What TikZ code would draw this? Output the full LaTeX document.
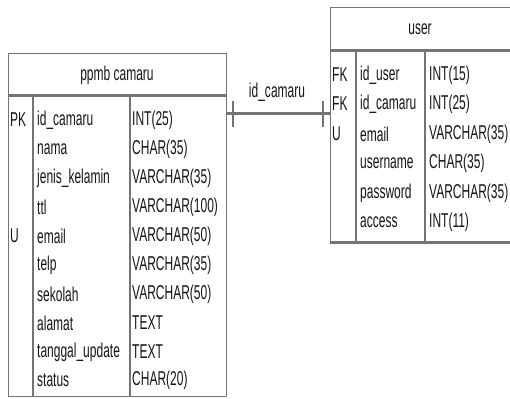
\documentclass[tikz,border=0pt]{standalone}
\usepackage{fontspec}
\newfontfamily\cond[FakeStretch=0.6]{Liberation Sans}
\usetikzlibrary{calc}
\definecolor{lg}{HTML}{747474}
\definecolor{tx}{HTML}{151515}
\begin{document}
\begin{tikzpicture}[x=1pt,y=-1pt,
  txt/.style={font=\cond\fontsize{20}{22}\selectfont, text=tx, inner sep=0pt, anchor=west},
  hdr/.style={font=\cond\fontsize{20}{22}\selectfont, text=tx, inner sep=0pt},
  tbl/.style={draw=lg, line width=1pt, inner sep=0pt},
  sepline/.style={draw=lg, line width=3pt},
  coldiv/.style={draw=lg, line width=1.2pt},
  conn/.style={draw=lg, line width=3pt},
  tickmark/.style={draw=lg, line width=2pt}]
\useasboundingbox (0,0) rectangle (510,398);
\clip (0,0) rectangle (510,398);
% left table
\node[tbl, minimum width=218pt, minimum height=342pt] (ppmb) at (117,225) {};
\node[hdr] (ppmbh) at (117,75) {ppmb camaru};
\draw[sepline] (8,96) -- (226,96);
\draw[coldiv] (33,96) -- (33,396);
\draw[coldiv] (130,96) -- (130,396);
\node[txt] (lk1) at (10,120) {PK};
\node[txt] (lk2) at (10,236) {U};
\foreach \n/\t/\y [count=\i] in {id\_camaru/INT(25)/120, nama/CHAR(35)/149, jenis\_kelamin/VARCHAR(35)/178, ttl/VARCHAR(100)/207, email/VARCHAR(50)/236, telp/VARCHAR(35)/265, sekolah/VARCHAR(50)/294, alamat/TEXT/323, tanggal\_update/TEXT/352, status/CHAR(20)/380}{
  \node[txt] (ln\i) at (37,\y) {\n};
  \node[txt] (lt\i) at (132,\y) {\t};
}
% right table
\node[tbl, minimum width=184pt, minimum height=234pt] (user) at (422,125) {};
\node[hdr] (userh) at (420,29) {user};
\draw[sepline] (330,51) -- (512,51);
\draw[sepline] (330,242) -- (512,242);
\draw[coldiv] (356,51) -- (356,242);
\draw[coldiv] (425,51) -- (425,242);
\node[txt] (rk1) at (332,75) {FK};
\node[txt] (rk2) at (332,104) {FK};
\node[txt] (rk3) at (332,134) {U};
\foreach \n/\t/\y [count=\i] in {id\_user/INT(15)/75, id\_camaru/INT(25)/104, email/VARCHAR(35)/134, username/CHAR(35)/163, password/VARCHAR(35)/193, access/INT(11)/222}{
  \node[txt] (rn\i) at (360,\y) {\n};
  \node[txt] (rt\i) at (429,\y) {\t};
}
% connector
\draw[conn] ($(ppmb.north east)+(0,60)$) -- ($(user.north west)+(0,106)$);
\draw[tickmark] ($(ppmb.north east)+(6,48)$) -- ++(0,26);
\draw[tickmark] ($(user.north west)+(-7,94)$) -- ++(0,26);
\node[hdr] (lbl) at (277,92) {id\_camaru};
\end{tikzpicture}
\end{document}
